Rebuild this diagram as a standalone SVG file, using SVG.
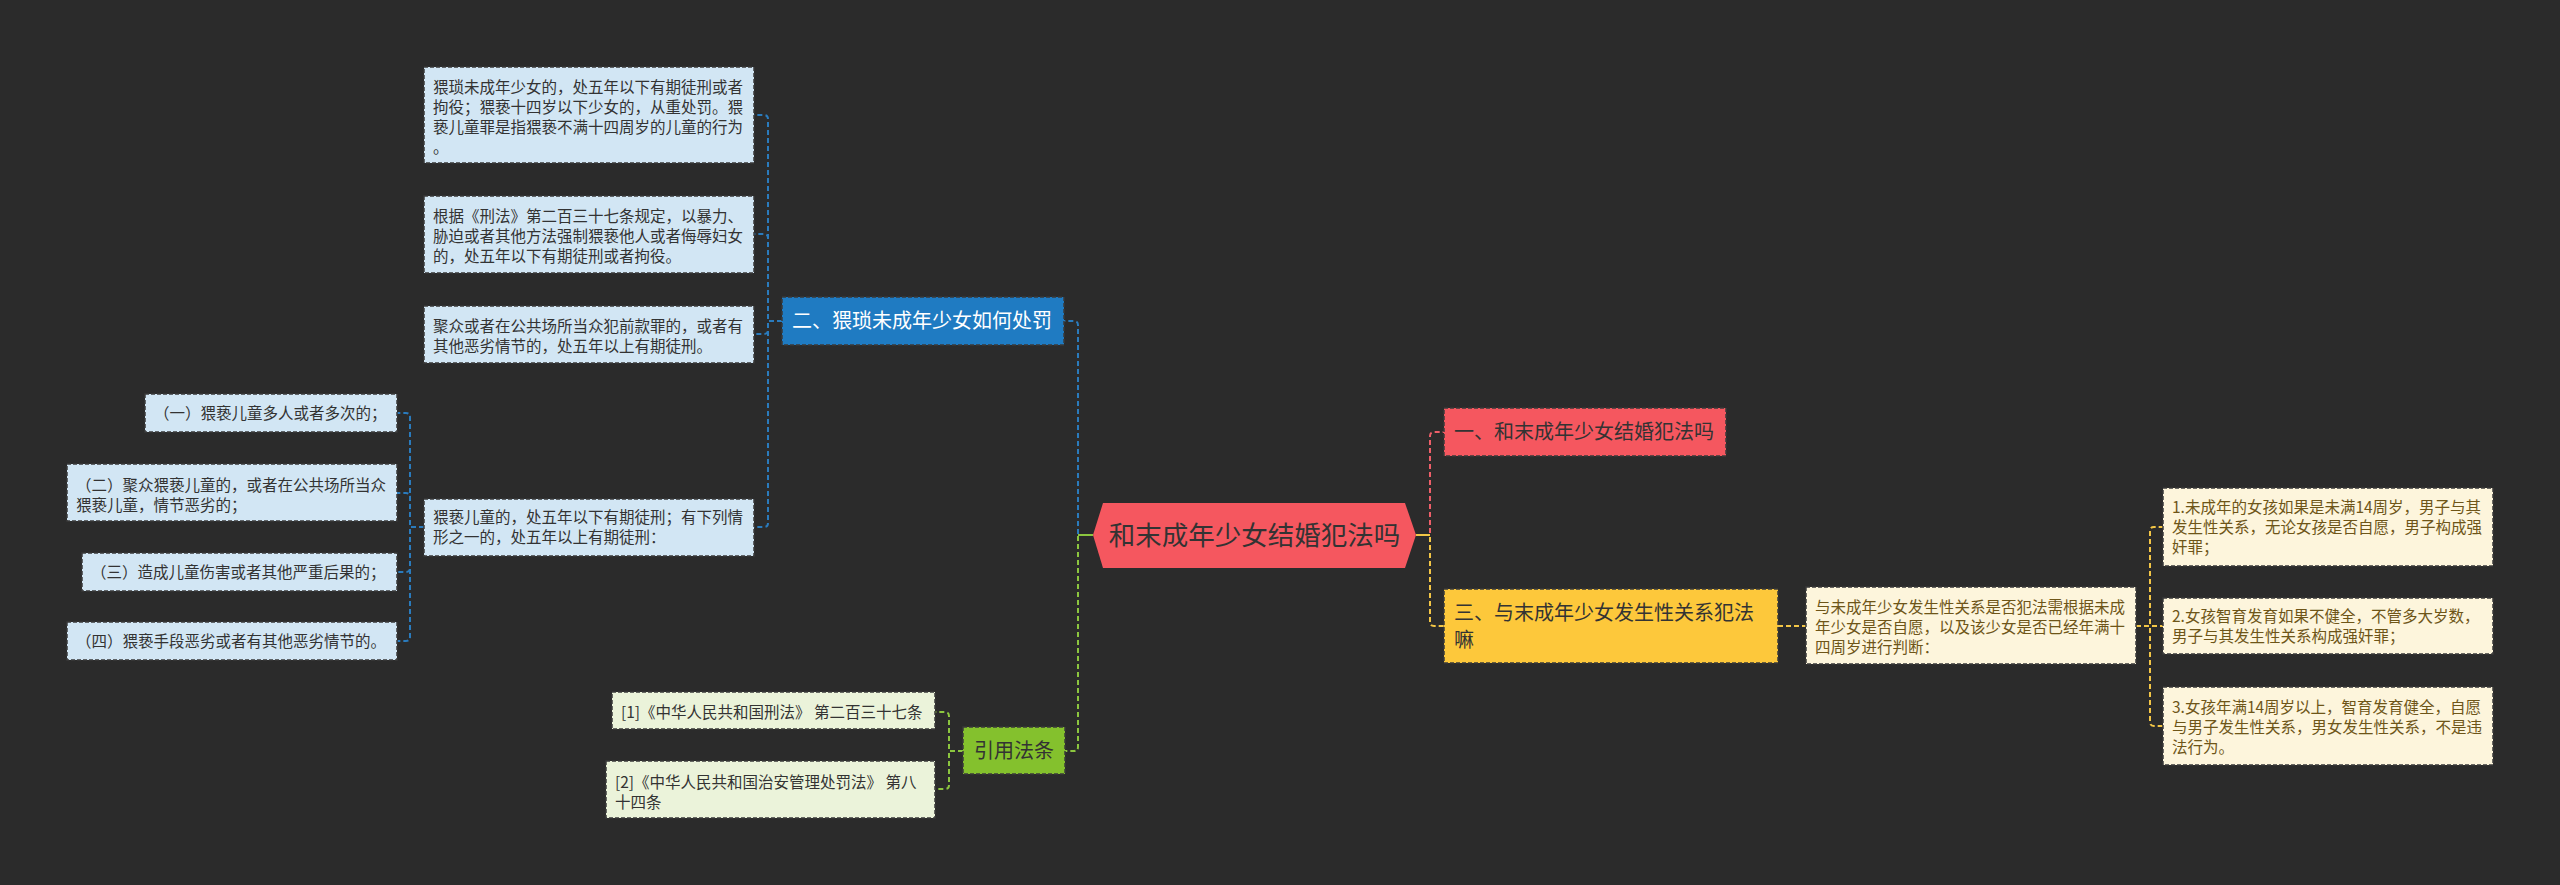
<svg xmlns="http://www.w3.org/2000/svg" width="2560" height="885" viewBox="0 0 2560 885">
<style>
text{font-family:"Noto Sans CJK SC","Noto Sans",sans-serif;}
.s{font-size:15.5px;fill:#333333;}
.sy{font-size:15.5px;fill:#6e5518;}
.m{font-size:20px;fill:#333333;}
.mw{font-size:20px;fill:#ffffff;}
.r{font-size:26.5px;fill:#333333;}
.bl{fill:#d2e6f4;stroke:#3a3a3a;stroke-width:1.5;stroke-dasharray:4 2;}
.gl{fill:#ebf3da;stroke:#3a3a3a;stroke-width:1.5;stroke-dasharray:4 2;}
.yl{fill:#fdf5dc;stroke:#3a3a3a;stroke-width:1.5;stroke-dasharray:4 2;}
.bd{fill:#1f7bc2;stroke:#3a3a3a;stroke-width:1.5;stroke-dasharray:4 2;}
.gd{fill:#84c12d;stroke:#3a3a3a;stroke-width:1.5;stroke-dasharray:4 2;}
.rd{fill:#f5575f;stroke:#3a3a3a;stroke-width:1.5;stroke-dasharray:4 2;}
.yd{fill:#fdc83b;stroke:#3a3a3a;stroke-width:1.5;stroke-dasharray:4 2;}
.c{fill:none;stroke-width:2;stroke-dasharray:5 3;}
.cb{stroke:#2a7bbd;}
.cg{stroke:#8cc63f;}
.cr{stroke:#ee5f69;}
.cy{stroke:#f3c646;}
</style>
<rect x="0" y="0" width="2560" height="885" fill="#2b2b2b"/>
<g id="connectors">
<path class="c cb" d="M1093 535 H1078 V325 Q1078 321 1074 321 H1064"/>
<path class="c cg" d="M1093 535 H1078 V747 Q1078 751 1074 751 H1065"/>
<path d="M1078 535 H1093" stroke="#8cc63f" stroke-width="2"/>
<path class="c cr" d="M1416 535 H1430 V436 Q1430 432 1434 432 H1444"/>
<path class="c cy" d="M1416 535 H1430 V622 Q1430 626 1434 626 H1444"/>
<path d="M1416 535 H1430" stroke="#f3c646" stroke-width="2"/>
<path class="c cb" d="M782 321 H768 V119 Q768 115 764 115 H754"/>
<path class="c cb" d="M782 321 H768 V238 Q768 234 764 234 H754"/>
<path class="c cb" d="M782 321 H768 V330 Q768 334 764 334 H754"/>
<path class="c cb" d="M782 321 H768 V523 Q768 527 764 527 H754"/>
<path class="c cb" d="M424 527 H410 V417 Q410 413 406 413 H397"/>
<path class="c cb" d="M424 527 H410 V497 Q410 493 406 493 H397"/>
<path class="c cb" d="M424 527 H410 V568 Q410 572 406 572 H397"/>
<path class="c cb" d="M424 527 H410 V637 Q410 641 406 641 H397"/>
<path class="c cg" d="M963 751 H949 V716 Q949 712 945 712 H935"/>
<path class="c cg" d="M963 751 H949 V785 Q949 789 945 789 H935"/>
<path class="c cy" d="M1778 626 H1806"/>
<path class="c cy" d="M2136 626 H2150 V531 Q2150 527 2154 527 H2163"/>
<path class="c cy" d="M2136 626 H2163"/>
<path class="c cy" d="M2136 626 H2150 V722 Q2150 726 2154 726 H2163"/>
</g>
<g id="root">
<polygon points="1093,535 1103,503 1405,503 1416,535 1405,568 1103,568" fill="#f5575f"/>
<text class="r" x="1254.5" y="545" text-anchor="middle">和末成年少女结婚犯法吗</text>
</g>
<g id="n1">
<rect class="rd" x="1444" y="408" width="282" height="48"/>
<text class="m" x="1454" y="439">一、和末成年少女结婚犯法吗</text>
</g>
<g id="n3">
<rect class="yd" x="1444" y="589" width="334" height="74"/>
<text class="m" x="1454" y="620">三、与末成年少女发生性关系犯法</text>
<text class="m" x="1454" y="647">嘛</text>
</g>
<g id="n3a">
<rect class="yl" x="1806" y="587" width="330" height="77"/>
<text class="sy" x="1815" y="612.5">与未成年少女发生性关系是否犯法需根据未成</text>
<text class="sy" x="1815" y="632.5">年少女是否自愿，以及该少女是否已经年满十</text>
<text class="sy" x="1815" y="652.5">四周岁进行判断：</text>
</g>
<g id="n3a1">
<rect class="yl" x="2163" y="488" width="330" height="78"/>
<text class="sy" x="2172" y="512.5">1.未成年的女孩如果是未满14周岁，男子与其</text>
<text class="sy" x="2172" y="532.5">发生性关系，无论女孩是否自愿，男子构成强</text>
<text class="sy" x="2172" y="552.5">奸罪；</text>
</g>
<g id="n3a2">
<rect class="yl" x="2163" y="598" width="330" height="56"/>
<text class="sy" x="2172" y="622">2.女孩智育发育如果不健全，不管多大岁数，</text>
<text class="sy" x="2172" y="642">男子与其发生性关系构成强奸罪；</text>
</g>
<g id="n3a3">
<rect class="yl" x="2163" y="687" width="330" height="78"/>
<text class="sy" x="2172" y="712.5">3.女孩年满14周岁以上，智育发育健全，自愿</text>
<text class="sy" x="2172" y="732.5">与男子发生性关系，男女发生性关系，不是违</text>
<text class="sy" x="2172" y="752.5">法行为。</text>
</g>
<g id="n2">
<rect class="bd" x="782" y="297" width="282" height="48"/>
<text class="mw" x="792" y="328">二、猥琐未成年少女如何处罚</text>
</g>
<g id="n2a">
<rect class="bl" x="424" y="67" width="330" height="96"/>
<text class="s" x="433" y="92.5">猥琐未成年少女的，处五年以下有期徒刑或者</text>
<text class="s" x="433" y="112.5">拘役；猥亵十四岁以下少女的，从重处罚。猥</text>
<text class="s" x="433" y="132.5">亵儿童罪是指猥亵不满十四周岁的儿童的行为</text>
<text class="s" x="433" y="152.5">。</text>
</g>
<g id="n2b">
<rect class="bl" x="424" y="196" width="330" height="77"/>
<text class="s" x="433" y="221.5">根据《刑法》第二百三十七条规定，以暴力、</text>
<text class="s" x="433" y="241.5">胁迫或者其他方法强制猥亵他人或者侮辱妇女</text>
<text class="s" x="433" y="261.5">的，处五年以下有期徒刑或者拘役。</text>
</g>
<g id="n2c">
<rect class="bl" x="424" y="306" width="330" height="57"/>
<text class="s" x="433" y="331.5">聚众或者在公共场所当众犯前款罪的，或者有</text>
<text class="s" x="433" y="351.5">其他恶劣情节的，处五年以上有期徒刑。</text>
</g>
<g id="n2d">
<rect class="bl" x="424" y="499" width="330" height="57"/>
<text class="s" x="433" y="523">猥亵儿童的，处五年以下有期徒刑；有下列情</text>
<text class="s" x="433" y="543">形之一的，处五年以上有期徒刑：</text>
</g>
<g id="n2d1">
<rect class="bl" x="145" y="394" width="252" height="38"/>
<text class="s" x="154" y="418.5">（一）猥亵儿童多人或者多次的；</text>
</g>
<g id="n2d2">
<rect class="bl" x="67" y="464" width="330" height="57"/>
<text class="s" x="76" y="490.5">（二）聚众猥亵儿童的，或者在公共场所当众</text>
<text class="s" x="76" y="510.5">猥亵儿童，情节恶劣的；</text>
</g>
<g id="n2d3">
<rect class="bl" x="82" y="553" width="315" height="38"/>
<text class="s" x="91" y="577.5">（三）造成儿童伤害或者其他严重后果的；</text>
</g>
<g id="n2d4">
<rect class="bl" x="67" y="622" width="330" height="38"/>
<text class="s" x="76" y="646.5">（四）猥亵手段恶劣或者有其他恶劣情节的。</text>
</g>
<g id="ref">
<rect class="gd" x="963" y="727" width="102" height="47"/>
<text class="m" x="1014" y="758" text-anchor="middle">引用法条</text>
</g>
<g id="ref1">
<rect class="gl" x="612" y="692" width="323" height="37"/>
<text class="s" x="621" y="717.5">[1]《中华人民共和国刑法》 第二百三十七条</text>
</g>
<g id="ref2">
<rect class="gl" x="606" y="761" width="329" height="57"/>
<text class="s" x="615" y="787.5">[2]《中华人民共和国治安管理处罚法》 第八</text>
<text class="s" x="615" y="807.5">十四条</text>
</g>
</svg>
